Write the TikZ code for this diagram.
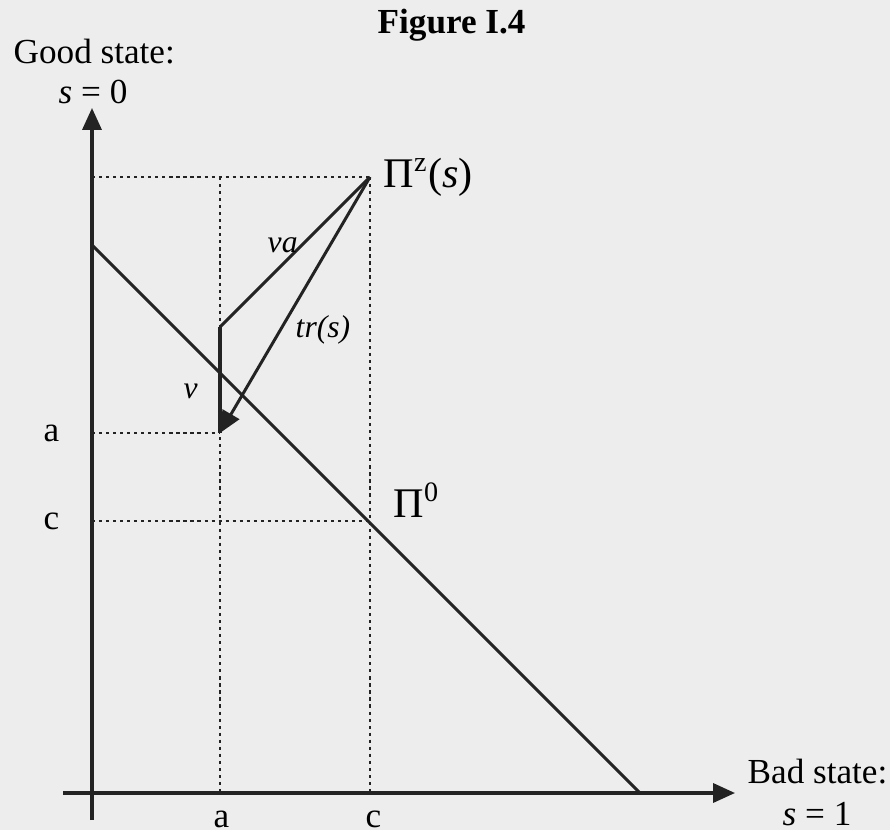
\documentclass[tikz,border=0pt]{standalone}
\usepackage{fontspec}
\setmainfont{Liberation Serif}
\usepackage{xcolor}
\usetikzlibrary{arrows.meta,positioning}
\definecolor{paper}{RGB}{237,237,237}
\definecolor{ink}{RGB}{35,35,35}

\begin{document}
\begin{tikzpicture}[x=0.01cm,y=-0.01cm,>={Triangle[length=6.2pt,width=5.4pt]},
 axis/.style={ink,line width=0.9pt},
 guide/.style={ink,dash pattern=on 0.9pt off 1.1pt,line width=0.8pt},
 curve/.style={ink,line width=0.85pt},
 txt/.style={inner sep=0pt,anchor=base west,font=\fontsize{10}{12}\selectfont},
 pilbl/.style={inner sep=0pt,anchor=base west,font=\fontsize{12}{14}\selectfont},
 small/.style={inner sep=0pt,anchor=base west,font=\fontsize{9}{11}\selectfont\itshape}]
\fill[paper] (0,0) rectangle (890,830);
\useasboundingbox (0,0) rectangle (890,830);
% axes
\coordinate (ybot) at (92,820);
\coordinate (ytop) at (92,108);
\coordinate (xleft) at (63,793);
\coordinate (xright) at (735,793);
\draw[axis,->] (ybot) -- (ytop);
\draw[axis,->] (xleft) -- (xright);
% points
\coordinate (pz) at (370,177);
\coordinate (p0) at (370,521);
\coordinate (pa) at (220,433);
\coordinate (vtop) at (220,327);
\coordinate (ltop) at (92,245);
\coordinate (lend) at (640,793);
\coordinate (pzy) at (92,177);
\coordinate (ay) at (92,433);
\coordinate (cy) at (92,521);
\coordinate (ax) at (220,793);
\coordinate (cx) at (370,793);
\coordinate (atop) at (220,177);
% guides
\draw[guide] (pzy) -- (pz);
\draw[guide] (atop) -- (ax);
\draw[guide] (pz) -- (cx);
\draw[guide] (ay) -- (pa);
\draw[guide] (cy) -- (p0);
% lines
\draw[curve] (ltop) -- (lend);
\draw[curve] (pz) -- (vtop);
\draw[axis] (vtop) -- (pa);
\draw[curve,->] (pz) -- (pa);
% labels
\node[txt,font=\fontsize{10}{12}\selectfont\bfseries] (title) at (377,33) {Figure I.4};
\node[txt] (good) at (13,63) {Good state:};
\node[txt] (s0) at (58,103) {\textit{s} = 0};
\node[txt] (bad) at (747,783) {Bad state:};
\node[txt] (s1) at (782,825) {\textit{s} = 1};
\node[pilbl] (pzlbl) at (383,187) {Π\textsuperscript{z}(\textit{s})};
\node[pilbl] (p0lbl) at (393,517) {Π\textsuperscript{0}};
\node[txt] (alft) at (43,441) {a};
\node[txt] (clft) at (43,529) {c};
\node[txt] (abot) at (213,827) {a};
\node[txt] (cbot) at (365,827) {c};
\node[small] (valbl) at (267,252) {va};
\node[small] (trlbl) at (295,337) {tr(s)};
\node[small] (vlbl) at (183,398) {v};
\end{tikzpicture}
\end{document}
